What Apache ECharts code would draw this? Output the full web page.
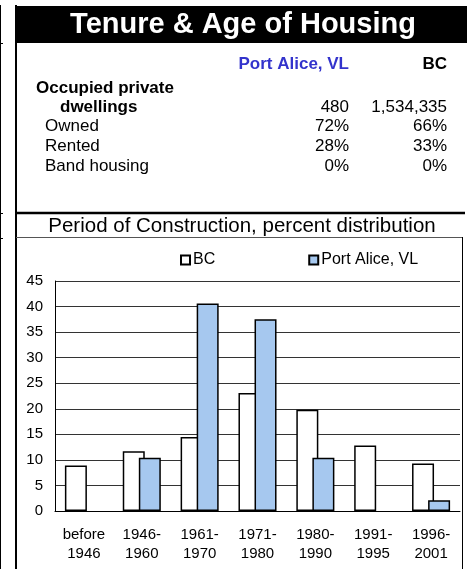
<!DOCTYPE html>
<html>
<head>
<meta charset="utf-8">
<script src="https://cdn.jsdelivr.net/npm/echarts@6/dist/echarts.min.js"></script>
<style>
  html, body { margin: 0; padding: 0; background: #fff; }
  #chart { width: 467px; height: 569px; }
</style>
</head>
<body>
<div id="chart"></div>
<script>
// table values
var areaName = 'Port Alice, VL';
var provName = 'BC';
var rowLabels = ['Owned', 'Rented', 'Band housing'];
var areaTable = ['480', '72%', '28%', '0%'];
var provTable = ['1,534,335', '66%', '33%', '0%'];

// chart values (percent of dwellings by period of construction)
var periods = ['before\n1946', '1946-\n1960', '1961-\n1970', '1971-\n1980', '1980-\n1990', '1991-\n1995', '1996-\n2001'];
var bcValues = [8.9, 11.7, 14.5, 23.1, 19.8, 12.8, 9.3];
var areaValues = [0, 10.4, 40.6, 37.5, 10.4, 0, 2.1];

var FONT = 'Liberation Sans, Arial, sans-serif';
var myChart = echarts.init(document.getElementById('chart'));

function txt(x, y, s, opt) {
	opt = opt || {};
	return {
		type: 'text', x: x, y: y, silent: true,
		style: {
			text: s, x: 0, y: 0,
			fontFamily: FONT,
			fontSize: opt.size || 17,
			fontWeight: opt.bold ? 'bold' : 'normal',
			fill: opt.color || '#000',
			textAlign: opt.align || 'left',
			textVerticalAlign: 'middle'
		}
	};
}
function line(x1, y1, x2, y2, w, c) {
	return { type: 'line', silent: true, shape: { x1: x1, y1: y1, x2: x2, y2: y2 }, style: { stroke: c || '#000', lineWidth: w } };
}
// zero-height bars get no outline, so nothing shows on the axis
function barData(vals) {
	return vals.map(function (v) {
		return v === 0 ? { value: v, itemStyle: { borderWidth: 0 } } : v;
	});
}

var g = [];
// panel frame
g.push(line(0.5, 5, 0.5, 569, 1));
g.push(line(0, 43.5, 3, 43.5, 1));
g.push(line(0, 213.5, 3, 213.5, 1));
g.push(line(0, 238.5, 3, 238.5, 1));
g.push(line(16, 5, 16, 569, 2));
g.push({ type: 'rect', silent: true, shape: { x: 15, y: 6, width: 452, height: 37 }, style: { fill: '#000' } });
g.push(txt(243, 25, 'Tenure & Age of Housing', { size: 29, bold: true, color: '#fff', align: 'center' }));
g.push(line(16, 213, 465, 213, 2.5));
g.push(line(16, 237.5, 463, 237.5, 1, '#555'));
g.push(line(462.5, 237, 462.5, 569, 1));
g.push(txt(242, 226, 'Period of Construction, percent distribution', { size: 20.5, align: 'center' }));

// tenure table
g.push(txt(349, 64, areaName, { bold: true, color: '#3333cc', align: 'right' }));
g.push(txt(447, 64, provName, { bold: true, align: 'right' }));
g.push(txt(36, 88, 'Occupied private', { bold: true }));
g.push(txt(60, 107, 'dwellings', { bold: true }));
var rowY = [107, 126, 146, 166];
for (var i = 0; i < rowY.length; i++) {
	if (i > 0) g.push(txt(45, rowY[i], rowLabels[i - 1]));
	g.push(txt(349, rowY[i], areaTable[i], { align: 'right' }));
	g.push(txt(447, rowY[i], provTable[i], { align: 'right' }));
}

var option = {
	animation: false,
	textStyle: { fontFamily: FONT },
	graphic: g,
	legend: {
		left: 180, top: 252, padding: 0,
		itemWidth: 9, itemHeight: 9, itemGap: 93,
		icon: 'rect',
		textStyle: { fontSize: 16, color: '#000', fontFamily: FONT, padding: [0, 0, 0, -2] },
		data: [provName, areaName]
	},
	grid: { left: 55, right: 7, top: 281, bottom: 58 },
	xAxis: {
		type: 'category',
		data: periods,
		axisLine: { lineStyle: { color: '#000', width: 1 } },
		axisTick: { show: false },
		axisLabel: { color: '#000', fontSize: 15, lineHeight: 19, margin: 14, interval: 0, fontFamily: FONT }
	},
	yAxis: {
		type: 'value',
		min: 0, max: 45, interval: 5,
		axisLine: { show: true, lineStyle: { color: '#000', width: 1 } },
		axisTick: { show: false },
		axisLabel: { color: '#000', fontSize: 15, margin: 12, fontFamily: FONT },
		splitLine: { lineStyle: { color: '#333', width: 1 } }
	},
	series: [
		{
			name: provName, type: 'bar', data: barData(bcValues),
			barWidth: 22, barGap: '-27%',
			itemStyle: { color: '#fff', borderColor: '#000', borderWidth: 1.5 }
		},
		{
			name: areaName, type: 'bar', data: barData(areaValues),
			barWidth: 22, barGap: '-27%',
			itemStyle: { color: '#a6c8ef', borderColor: '#000', borderWidth: 1.5 }
		}
	]
};
myChart.setOption(option);
</script>
</body>
</html>
